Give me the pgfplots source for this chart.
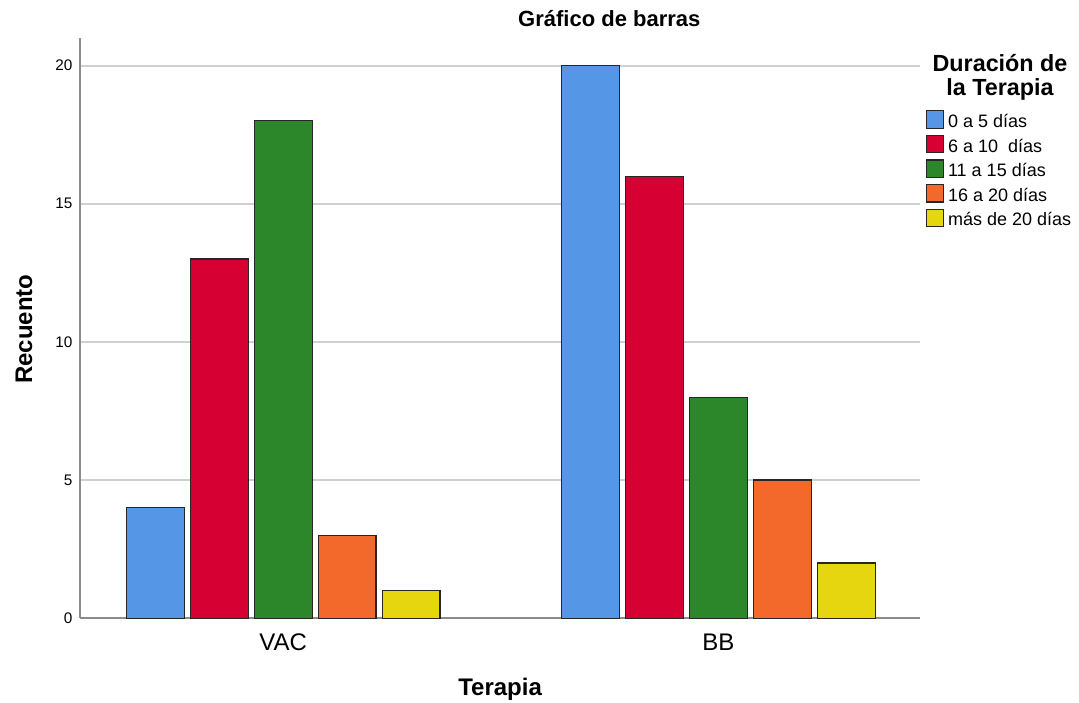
\documentclass[border=0pt]{standalone}
\usepackage{pgfplots}
\pgfplotsset{compat=1.18}
\usepackage{fontspec}
\setmainfont{Liberation Sans}
\definecolor{c1}{HTML}{5596E6}
\definecolor{c2}{HTML}{D70033}
\definecolor{c3}{HTML}{2C862A}
\definecolor{c4}{HTML}{F3692B}
\definecolor{c5}{HTML}{E5D60F}
\definecolor{gridc}{HTML}{D0D0D0}
\definecolor{axc}{HTML}{8C8C8C}
\pgfplotsset{
  mybar/.style={fill=#1, draw=black!85, line width=0.9pt,
    legend image code/.code={\draw[fill=#1, draw=black!85, line width=0.9pt] (0pt,-0.5pt) rectangle (13pt,12.5pt);}},
}
\begin{document}
\begin{tikzpicture}
\begin{axis}[
  scale only axis, width=630pt, height=435pt,
  xmin=-0.467, xmax=1.464, ymin=0, ymax=21,
  xtick={0,1}, xticklabels={VAC,BB},
  ytick={0,5,10,15,20},
  ymajorgrids, grid style={draw=gridc, line width=1.4pt},
  axis x line*=bottom, axis y line*=left,
  axis line style={draw=axc, line width=1.4pt, -},
  major tick length=0pt, tick style={draw=none},
  /pgf/number format/assume math mode=true,
  yticklabel style={font=\fontsize{11.5}{13}\selectfont, xshift=-2.2pt},
  xticklabel style={font=\fontsize{18}{20}\selectfont, anchor=base, yshift=-24pt},
  legend style={at={(rel axis cs:1.006,0.876)}, anchor=north west, draw=none, fill=none,
    font=\fontsize{13.5}{15}\selectfont, row sep=2.5pt, inner sep=0pt,
    cells={anchor=base west},
    nodes={inner sep=0pt, text height=12.5pt, text depth=3pt},
    /tikz/every odd column/.append style={column sep=3pt}},
  clip=false,
]
\addplot[ybar, bar width=0.133, bar shift=-0.294, mybar=c1] coordinates {(0,4) (1,20)};
\addlegendentry{0 a 5 días}
\addplot[ybar, bar width=0.133, bar shift=-0.147, mybar=c2] coordinates {(0,13) (1,16)};
\addlegendentry{6 a 10\ \ días}
\addplot[ybar, bar width=0.133, bar shift=0, mybar=c3] coordinates {(0,18) (1,8)};
\addlegendentry{11 a 15 días}
\addplot[ybar, bar width=0.133, bar shift=0.147, mybar=c4] coordinates {(0,3) (1,5)};
\addlegendentry{16 a 20 días}
\addplot[ybar, bar width=0.133, bar shift=0.294, mybar=c5] coordinates {(0,1) (1,2)};
\addlegendentry{más de 20 días}
\path (rel axis cs:-0.0952,-0.1448) rectangle (rel axis cs:1.189,1.0655);
\node[font=\bfseries\fontsize{16.5}{18}\selectfont, anchor=base, inner sep=0pt] at (rel axis cs:0.630,1.019) {Gráfico de barras};
\node[font=\bfseries\fontsize{18}{20}\selectfont, rotate=90, anchor=base, inner sep=0pt] at (rel axis cs:-0.0571,0.498) {Recuento};
\node[font=\bfseries\fontsize{18}{20}\selectfont, anchor=base, inner sep=0pt] at (rel axis cs:0.5,-0.1328) {Terapia};
\node[font=\bfseries\fontsize{17.5}{19}\selectfont, anchor=base, inner sep=0pt] at (rel axis cs:1.095,0.9414) {Duración de};
\node[font=\bfseries\fontsize{17.5}{19}\selectfont, anchor=base, inner sep=0pt] at (rel axis cs:1.095,0.9017) {la Terapia};
\end{axis}
\end{tikzpicture}
\end{document}
